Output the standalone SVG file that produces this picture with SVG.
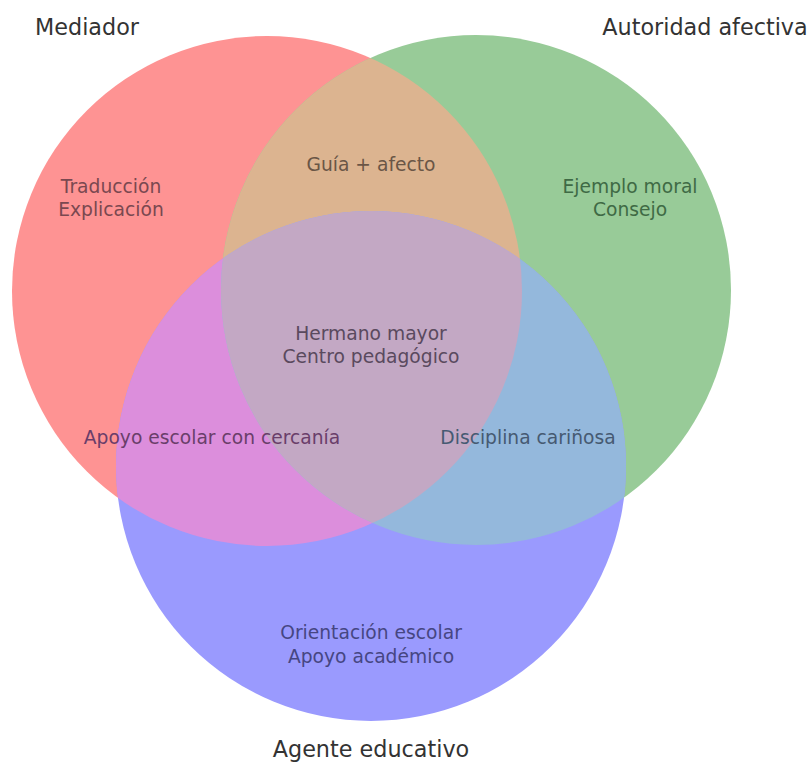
<svg xmlns="http://www.w3.org/2000/svg" width="812" height="768" viewBox="0 0 812 768">
<style>
.set{font-family:"DejaVu Sans","Liberation Sans",sans-serif;font-size:22.3px;fill:#333;text-anchor:middle}
.lbl{font-family:"DejaVu Sans","Liberation Sans",sans-serif;font-size:18.7px;text-anchor:middle}
</style>
<defs>
<clipPath id="cR"><circle cx="267" cy="291" r="255"/></clipPath>
<clipPath id="cG"><circle cx="476" cy="290" r="255"/></clipPath>
</defs>
<rect width="812" height="768" fill="#fff"/>
<g id="mediador">
<circle cx="267" cy="291" r="255" fill="#fe9393"/>
</g>
<g id="autoridad">
<circle cx="476" cy="290" r="255" fill="#98cb98"/>
</g>
<g id="agente">
<circle cx="371" cy="466" r="255" fill="#9a9afe"/>
</g>
<g id="med-aut" clip-path="url(#cR)">
<circle cx="476" cy="290" r="255" fill="#dcb490"/>
</g>
<g id="med-age" clip-path="url(#cR)">
<circle cx="371" cy="466" r="255" fill="#dc8edc"/>
</g>
<g id="aut-age" clip-path="url(#cG)">
<circle cx="371" cy="466" r="255" fill="#94b8dc"/>
</g>
<g id="centro" clip-path="url(#cR)">
<g clip-path="url(#cG)">
<circle cx="371" cy="466" r="255" fill="#c3a8c4"/>
</g>
</g>
<g id="labels">
<text class="set" x="87" y="35">Mediador</text>
<text class="set" x="705" y="35">Autoridad afectiva</text>
<text class="set" x="371" y="757">Agente educativo</text>
<text class="lbl" x="111" y="193" fill="#7a4850">Traducción</text>
<text class="lbl" x="111" y="216" fill="#7a4850">Explicación</text>
<text class="lbl" x="371" y="171" fill="#6a5646">Guía + afecto</text>
<text class="lbl" x="630" y="193" fill="#3f6a45">Ejemplo moral</text>
<text class="lbl" x="630" y="216" fill="#3f6a45">Consejo</text>
<text class="lbl" x="371" y="340" fill="#5a4a5e">Hermano mayor</text>
<text class="lbl" x="371" y="363" fill="#5a4a5e">Centro pedagógico</text>
<text class="lbl" x="212" y="444" fill="#6a3e6a">Apoyo escolar con cercanía</text>
<text class="lbl" x="528" y="444" fill="#465a72">Disciplina cariñosa</text>
<text class="lbl" x="371" y="639" fill="#464682">Orientación escolar</text>
<text class="lbl" x="371" y="663" fill="#464682">Apoyo académico</text>
</g>
</svg>
